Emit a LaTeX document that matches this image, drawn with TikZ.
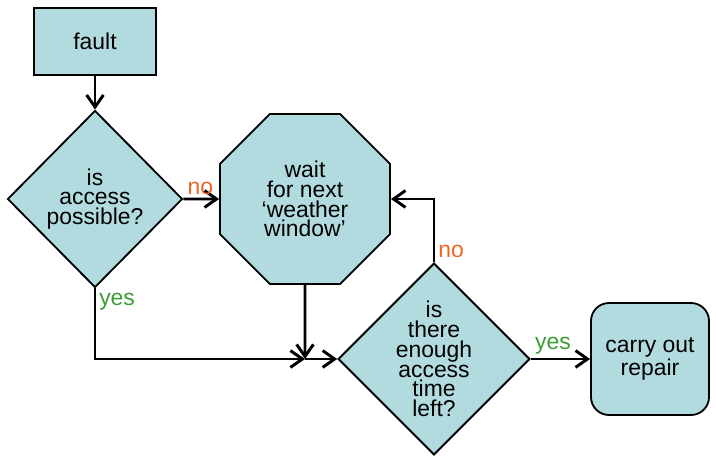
\documentclass[tikz,border=0pt]{standalone}
\usepackage{fontspec}
\setmainfont{Liberation Sans}
\usepackage{tikz}
\usetikzlibrary{arrows.meta,shapes.geometric}
\definecolor{boxblue}{HTML}{B2DBE0}
\definecolor{noorange}{HTML}{EE6424}
\definecolor{yesgreen}{HTML}{3A9E36}

\begin{document}
\begin{tikzpicture}[
  font=\fontsize{16.3}{14}\selectfont,
  box/.style={draw,line width=1.3pt,fill=boxblue,align=center,inner sep=0pt},
  flow/.style={line width=2.1pt,-{Straight Barb[length=3mm,width=4.2mm]}},
  nolab/.style={text=noorange,inner sep=2pt},
  yeslab/.style={text=yesgreen,inner sep=2pt}]
  \useasboundingbox (0,0) rectangle (17.9,11.6);

  % Steps: fault, check, wait, check, repair
  \node[box,minimum width=3.05cm,minimum height=1.675cm] (fault) at (2.375,10.56) {fault};
  \node[box,diamond,minimum width=4.375cm,minimum height=4.425cm] (access) at (2.375,6.625) {is\\access\\possible?};
  \node[box,regular polygon,regular polygon sides=8,minimum size=4.6cm] (wait) at (7.625,6.625) {wait\\for next\\`weather\\window'};
  \node[box,diamond,minimum width=4.7cm,minimum height=4.65cm] (time) at (10.85,2.625) {is\\there\\enough\\access\\time\\left?};
  \node[box,rounded corners=0.45cm,minimum width=2.95cm,minimum height=2.8cm] (repair) at (16.25,2.625) {carry out\\repair};
  \coordinate (merge) at (7.625,2.625);

  % Connectors with yes/no labels
  \draw[flow] (fault) -- (access);
  \draw[flow] (access.east) -- node[nolab,pos=0,above right] {no} (wait.west);
  \draw[flow] (access.south) |- node[yeslab,pos=0,below right] {yes} (merge);
  \draw[flow] (wait.south) -- (merge);
  \draw[flow] (merge) -- (time.west);
  \draw[flow] (time.north) |- node[nolab,pos=0,above right] {no} (wait.east);
  \draw[flow] (time.east) -- node[yeslab,pos=0,above right] {yes} (repair.west);
\end{tikzpicture}
\end{document}
